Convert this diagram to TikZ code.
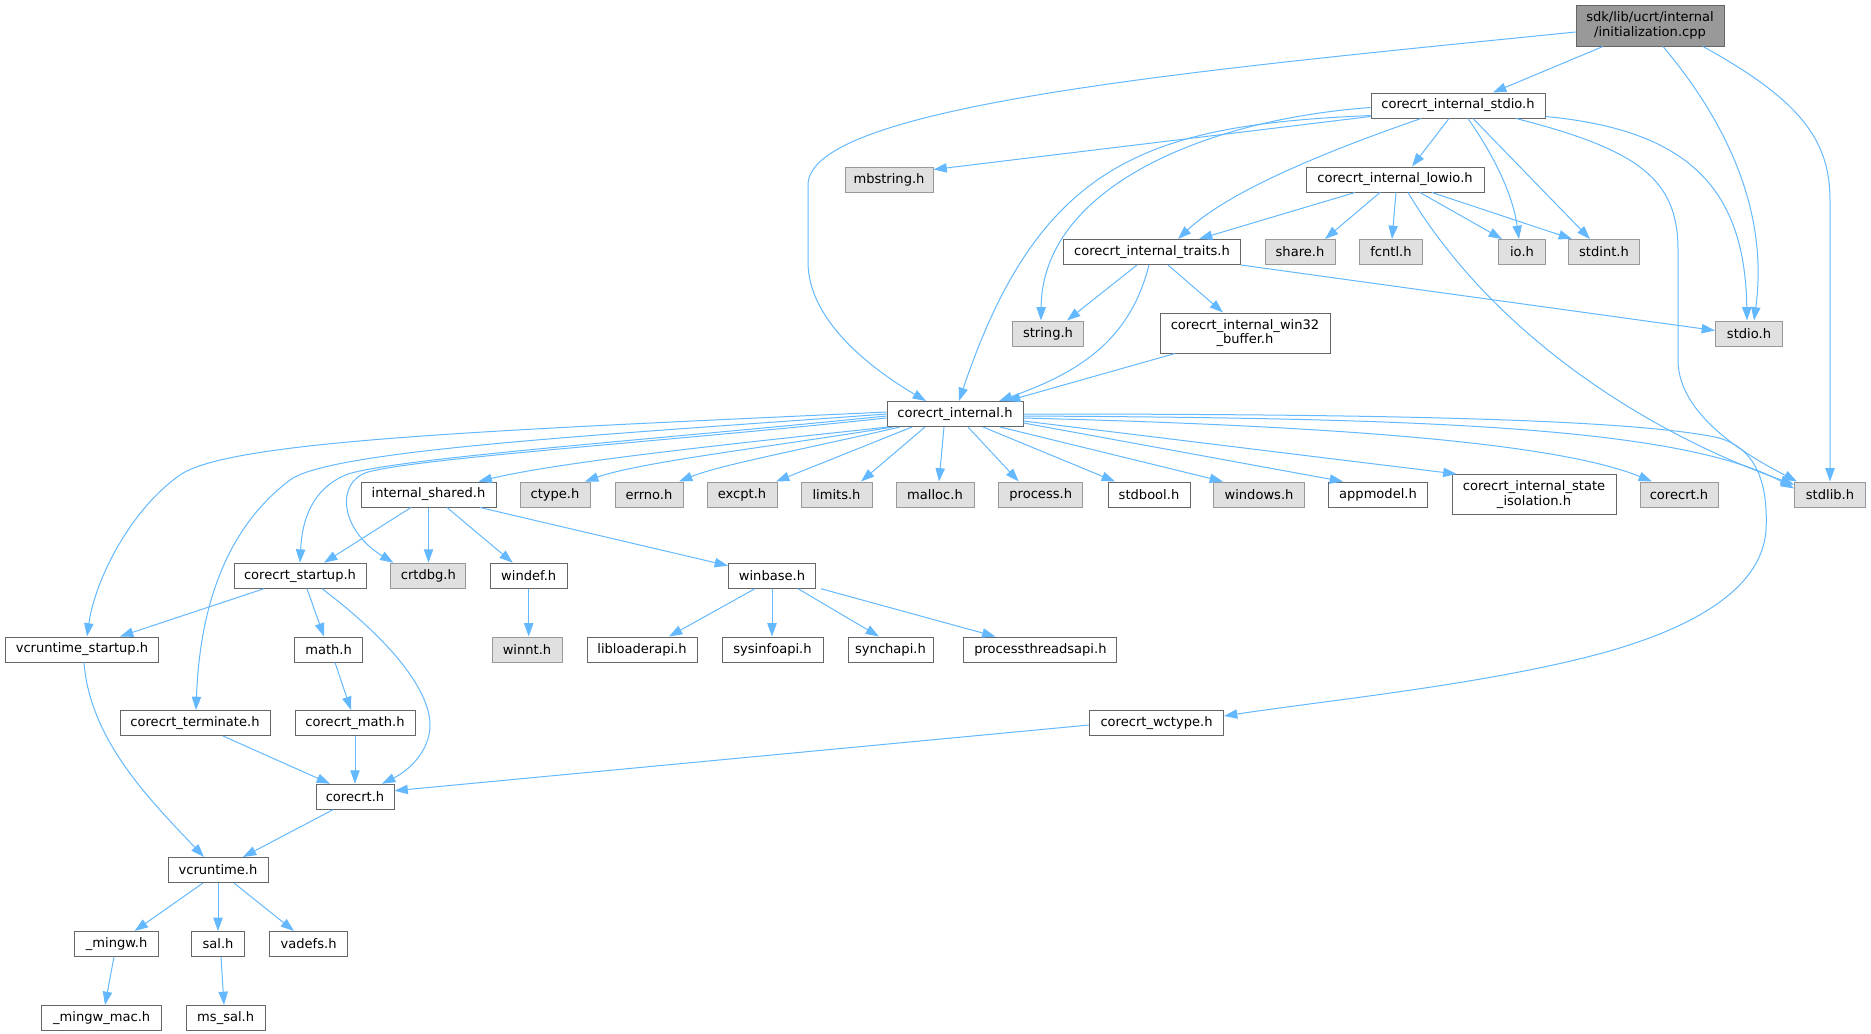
\documentclass[tikz,border=0pt]{standalone}
\usepackage{fontspec}
\setmainfont{DejaVu Sans}
\usetikzlibrary{arrows.meta,calc}
\definecolor{eb}{HTML}{63B8FF}
\definecolor{wb}{HTML}{666666}
\definecolor{gb}{HTML}{999999}
\definecolor{gf}{HTML}{E0E0E0}
\definecolor{tf}{HTML}{999999}
\tikzset{
 box/.style={draw, line width=0.75pt, inner sep=0pt, minimum height=18.75pt, align=center,
   font=\fontsize{9.8pt}{11pt}\selectfont},
 wn/.style={box, draw=wb, fill=white},
 gn/.style={box, draw=gb, fill=gf},
 tn/.style={box, draw=wb, fill=tf, minimum height=30.75pt},
 dbl/.style={minimum height=30pt},
 wd/.style={minimum width=#1*0.75pt},
 e/.style={draw=eb, line width=0.75pt, -{Triangle[length=10pt,width=7pt]}},
}
\begin{document}
\begin{tikzpicture}[x=0.75pt,y=-0.75pt]
\useasboundingbox (0,0) rectangle (1871,1033);
% nodes
\node[tn,wd=148] (top) at (1650,25.5) {sdk/lib/ucrt/internal\\/initialization.cpp};
\node[wn,wd=174] (sti) at (1458,105.5) {corecrt\_internal\_stdio.h};
\node[gn,wd=88] (mbs) at (889,179.5) {mbstring.h};
\node[wn,wd=178] (low) at (1395,179.5) {corecrt\_internal\_lowio.h};
\node[wn,wd=177] (tra) at (1152,252) {corecrt\_internal\_traits.h};
\node[gn,wd=70] (sha) at (1300,252) {share.h};
\node[gn,wd=63] (fcn) at (1391,252) {fcntl.h};
\node[gn,wd=47] (ioh) at (1522,252) {io.h};
\node[gn,wd=71] (sdi) at (1604,252) {stdint.h};
\node[gn,wd=71] (str) at (1048,333.5) {string.h};
\node[wn,wd=170,dbl] (w32) at (1245,333) {corecrt\_internal\_win32\\\_buffer.h};
\node[gn,wd=67] (sdo) at (1749,333.5) {stdio.h};
\node[wn,wd=136] (int) at (955,414) {corecrt\_internal.h};
\node[wn,wd=135] (ish) at (428.5,494.5) {internal\_shared.h};
\node[gn,wd=70] (cty) at (555,494.5) {ctype.h};
\node[gn,wd=68] (err) at (649,494.5) {errno.h};
\node[gn,wd=70] (exc) at (742,494.5) {excpt.h};
\node[gn,wd=71] (lim) at (836.5,494.5) {limits.h};
\node[gn,wd=78] (mal) at (935,494.5) {malloc.h};
\node[gn,wd=84] (pro) at (1040.7,494.5) {process.h};
\node[wn,wd=82] (sbo) at (1149,494.5) {stdbool.h};
\node[gn,wd=91] (win) at (1259,494.5) {windows.h};
\node[wn,wd=99] (app) at (1378,494.5) {appmodel.h};
\node[wn,wd=164,dbl] (iso) at (1534,494.5) {corecrt\_internal\_state\\\_isolation.h};
\node[gn,wd=78] (crg) at (1679,494.5) {corecrt.h};
\node[gn,wd=71] (slb) at (1830,494.5) {stdlib.h};
\node[wn,wd=132] (cst) at (300,575.7) {corecrt\_startup.h};
\node[gn,wd=75] (dbg) at (428.4,575.7) {crtdbg.h};
\node[wn,wd=77] (wdf) at (528.7,575.7) {windef.h};
\node[wn,wd=87] (wbs) at (772,575.7) {winbase.h};
\node[wn,wd=153] (vst) at (82,649.5) {vcruntime\_startup.h};
\node[wn,wd=68] (mth) at (328.6,649.5) {math.h};
\node[gn,wd=70] (wnt) at (527,649.5) {winnt.h};
\node[wn,wd=110] (lla) at (642,649.5) {libloaderapi.h};
\node[wn,wd=101] (sys) at (772.5,649.5) {sysinfoapi.h};
\node[wn,wd=85] (syn) at (890.5,649.5) {synchapi.h};
\node[wn,wd=153] (pta) at (1040.4,649.5) {processthreadsapi.h};
\node[wn,wd=150] (ter) at (195,723) {corecrt\_terminate.h};
\node[wn,wd=120] (cmh) at (355,723) {corecrt\_math.h};
\node[wn,wd=134] (wct) at (1156.5,723) {corecrt\_wctype.h};
\node[wn,wd=78] (crw) at (355,796.7) {corecrt.h};
\node[wn,wd=100] (vcr) at (218,870) {vcruntime.h};
\node[wn,wd=84] (mgw) at (116.6,944) {\_mingw.h};
\node[wn,wd=53] (sal) at (218,944) {sal.h};
\node[wn,wd=78] (vad) at (308.6,944) {vadefs.h};
\node[wn,wd=120] (mgm) at (101.7,1018) {\_mingw\_mac.h};
\node[wn,wd=79] (mss) at (225.7,1018) {ms\_sal.h};
% edges from top
\draw[e] ($(top.west)+(0,6.5)$) .. controls (1200,70) and (808,105) .. (808,185) -- (808,262) .. controls (808,320) and (870,368) .. ($(int.north)+(-29,0)$);
\draw[e] ($(top.south)+(-47,0)$) -- ($(sti.north)+(35,0)$);
\draw[e] ($(top.south)+(13,0)$) .. controls (1750,150) and (1765,240) .. ($(sdo.north)+(5,0)$);
\draw[e] ($(top.south)+(53,0)$) .. controls (1800,100) and (1830,140) .. (1830,200) -- (slb.north);
% corecrt_internal_stdio.h
\draw[e] ($(sti.west)+(0,10)$) .. controls (1150,125) and (1040,160) .. ($(int.north)+(4,0)$);
\draw[e] ($(sti.west)+(0,11)$) -- ($(mbs.east)+(0,-10)$);
\draw[e] ($(sti.west)+(0,2)$) .. controls (1200,120) and (1042,190) .. ($(str.north)+(-7,0)$);
\draw[e] ($(sti.south)+(-37,0)$) .. controls (1330,150) and (1230,190) .. ($(tra.north)+(26,0)$);
\draw[e] ($(sti.south)+(-9,0)$) -- ($(low.north)+(17,0)$);
\draw[e] ($(sti.south)+(10,0)$) .. controls (1490,150) and (1512,190) .. ($(ioh.north)+(-3,0)$);
\draw[e] ($(sti.south)+(15,0)$) -- ($(sdi.north)+(-14,0)$);
\draw[e] ($(sti.south east)+(0,-2)$) .. controls (1690,130) and (1745,190) .. ($(sdo.north)+(-2,0)$);
\draw[e] ($(sti.south)+(58,0)$) .. controls (1640,150) and (1678,180) .. (1678,250) -- (1678,360) .. controls (1678,420) and (1760,462) .. ($(slb.north west)+(3,0)$);
% lowio
\draw[e] ($(low.south)+(-40,0)$) -- ($(tra.north)+(47,0)$);
\draw[e] ($(low.south)+(-15,0)$) -- ($(sha.north)+(25,0)$);
\draw[e] ($(low.south)+(1,0)$) -- ($(fcn.north)+(1,0)$);
\draw[e] ($(low.south)+(25,0)$) -- ($(ioh.north)+(-20,0)$);
\draw[e] ($(low.south)+(37,0)$) -- ($(sdi.north)+(-32,0)$);
\draw[e] ($(low.south)+(13,0)$) .. controls (1490,330) and (1640,430) .. ($(slb.west)+(0,-10)$);
% traits
\draw[e] ($(tra.south)+(-15,0)$) -- ($(str.north)+(19,0)$);
\draw[e] ($(tra.south)+(-3,0)$) .. controls (1130,340) and (1080,372) .. ($(int.north)+(44,0)$);
\draw[e] ($(tra.south)+(16,0)$) -- ($(w32.north)+(-22,0)$);
\draw[e] (tra.south east) -- ($(sdo.west)+(0,-3)$);
\draw[e] ($(w32.south)+(-70,0)$) -- ($(int.north)+(52,0)$);
% corecrt_internal.h
\draw[e] ($(int.south west)+(2,0)$) .. controls (720,445) and (560,462) .. ($(ish.north)+(50,0)$);
\draw[e] ($(int.south)+(-62,0)$) .. controls (770,447) and (640,462) .. ($(cty.north)+(30,0)$);
\draw[e] ($(int.south)+(-55,0)$) .. controls (800,450) and (720,465) .. ($(err.north)+(30,0)$);
\draw[e] ($(int.south)+(-43,0)$) -- ($(exc.north)+(34,0)$);
\draw[e] ($(int.south)+(-30,0)$) -- ($(lim.north)+(24.5,0)$);
\draw[e] ($(int.south)+(-11,0)$) -- ($(mal.north)+(4,0)$);
\draw[e] ($(int.south)+(13,0)$) -- ($(pro.north)+(-22,0)$);
\draw[e] ($(int.south)+(28,0)$) -- ($(sbo.north)+(-34,0)$);
\draw[e] ($(int.south)+(45,0)$) -- ($(win.north)+(-36,0)$);
\draw[e] ($(int.east)+(0,9)$) -- ($(app.north)+(-35,0)$);
\draw[e] ($(int.east)+(0,7)$) -- ($(iso.north west)+(5,0)$);
\draw[e] ($(int.east)+(0,4)$) .. controls (1300,425) and (1550,440) .. ($(crg.north)+(-27,0)$);
\draw[e] ($(int.east)+(0,2)$) .. controls (1400,418) and (1680,425) .. ($(slb.west)+(0,-6)$);
\draw[e] (int.east) .. controls (1350,414) and (1620,418) .. (1715,437) .. controls (1760,447) and (1768,490) .. (1766,530) .. controls (1762,590) and (1690,630) .. (1595,655) .. controls (1480,685) and (1330,700) .. ($(wct.east)+(0,-7)$);
\draw[e] ($(int.west)+(0,2)$) .. controls (650,440) and (400,458) .. (348,474) .. controls (312,488) and (302,520) .. (cst.north);
\draw[e] ($(int.west)+(0,4)$) .. controls (660,442) and (420,458) .. (368,472) .. controls (335,482) and (340,530) .. ($(dbg.north west)+(3,0)$);
\draw[e] (int.west) .. controls (600,435) and (330,450) .. (290,480) .. controls (230,525) and (200,600) .. ($(ter.north)+(1,0)$);
\draw[e] ($(int.west)+(0,-2)$) .. controls (500,430) and (230,440) .. (180,475) .. controls (130,510) and (95,580) .. ($(vst.north)+(5,0)$);
% internal_shared.h
\draw[e] ($(ish.south)+(-17.5,0)$) -- ($(cst.north)+(24,0)$);
\draw[e] (ish.south) -- (ish.south |- dbg.north);
\draw[e] ($(ish.south)+(18.5,0)$) -- ($(wdf.north)+(-16,0)$);
\draw[e] ($(ish.south)+(51.5,0)$) -- ($(wbs.west)+(0,-10)$);
% corecrt_startup.h
\draw[e] ($(cst.south)+(-36,0)$) -- ($(vst.north)+(38,0)$);
\draw[e] ($(cst.south)+(7,0)$) -- ($(mth.north)+(-4.6,0)$);
\draw[e] ($(cst.south)+(22,0)$) .. controls (390,640) and (430,690) .. (430,725) .. controls (430,750) and (410,770) .. ($(crw.north)+(27,0)$);
% windef / winbase
\draw[e] (wdf.south) -- (wdf.south |- wnt.north);
\draw[e] ($(wbs.south)+(-17,0)$) -- ($(lla.north)+(27,0)$);
\draw[e] (wbs.south) -- (wbs.south |- sys.north);
\draw[e] ($(wbs.south)+(26,0)$) -- ($(syn.north)+(-11.5,0)$);
\draw[e] ($(wbs.south)+(49,0)$) -- ($(pta.north)+(-45,0)$);
% lower part
\draw[e] ($(vst.south)+(2,0)$) .. controls (90,740) and (150,800) .. ($(vcr.north)+(-14,0)$);
\draw[e] ($(mth.south)+(6.4,0)$) -- ($(cmh.north)+(-4,0)$);
\draw[e] ($(ter.south)+(28,0)$) -- ($(crw.north)+(-25,0)$);
\draw[e] (cmh.south) -- (crw.north);
\draw[e] ($(wct.west)+(0,2)$) -- ($(crw.east)+(0,-6)$);
\draw[e] ($(crw.south)+(-22,0)$) -- ($(vcr.north)+(25,0)$);
\draw[e] ($(vcr.south)+(-15,0)$) -- ($(mgw.north)+(18,0)$);
\draw[e] (vcr.south) -- (sal.north);
\draw[e] ($(vcr.south)+(16,0)$) -- ($(vad.north)+(-14.6,0)$);
\draw[e] ($(mgw.south)+(-2.6,0)$) -- ($(mgm.north)+(3.3,0)$);
\draw[e] ($(sal.south)+(3,0)$) -- ($(mss.north)+(-1.7,0)$);
\end{tikzpicture}
\end{document}
